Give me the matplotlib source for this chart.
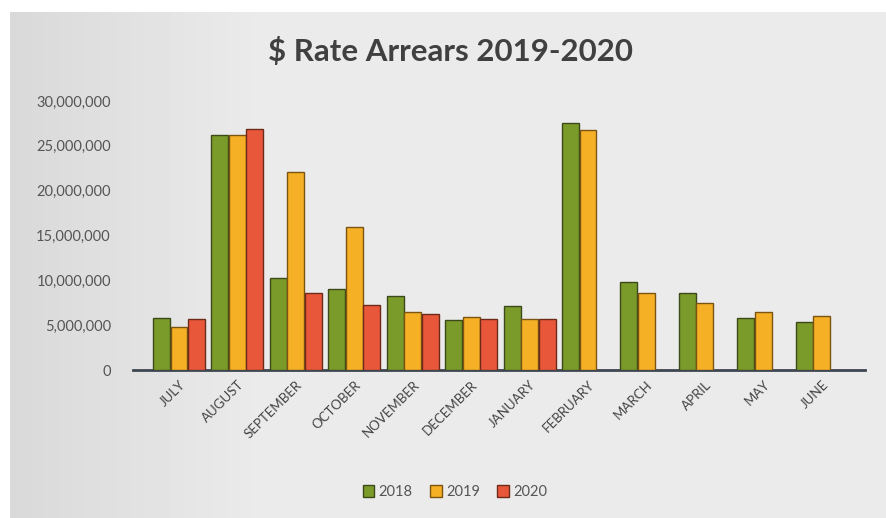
import matplotlib
matplotlib.use("Agg")
import matplotlib.pyplot as plt
import numpy as np
from matplotlib.ticker import FuncFormatter

# ---------------------------------------------------------------------------
# Data
# ---------------------------------------------------------------------------

MONTHS = ["JULY", "AUGUST", "SEPTEMBER", "OCTOBER", "NOVEMBER", "DECEMBER",
          "JANUARY", "FEBRUARY", "MARCH", "APRIL", "MAY", "JUNE"]
YEARS = ["2018", "2019", "2020"]

arrears_2018 = [5.8e6, 26.2e6, 10.3e6, 9.0e6, 8.25e6, 5.6e6,
                7.1e6, 27.5e6, 9.85e6, 8.6e6, 5.8e6, 5.4e6]
arrears_2019 = [4.8e6, 26.2e6, 22.1e6, 16.0e6, 6.5e6, 5.9e6,
                5.7e6, 26.8e6, 8.6e6, 7.5e6, 6.5e6, 6.0e6]
arrears_2020 = [5.7e6, 26.9e6, 8.6e6, 7.2e6, 6.3e6, 5.7e6,
                5.7e6, np.nan, np.nan, np.nan, np.nan, np.nan]

COLORS = ["#7A9A2A", "#F6B026", "#E8573A"]
EDGES = ["#3B4A18", "#7A5410", "#6E2A18"]

plt.rcParams["font.family"] = ["Lato", "DejaVu Sans"]

fig = plt.figure(figsize=(8.86, 5.18), dpi=100)
fig.patch.set_facecolor("white")

# chart area background: soft grey gradient, darker at the left edge
bg = fig.add_axes([0.011, 0.0, 0.989, 0.977])
bg.set_axis_off()
grad = np.linspace(0, 1, 256)
shade = 0.85 + 0.07 * np.clip(grad * 3.5, 0, 1)
bg.imshow(np.tile(shade, (16, 1)), aspect="auto", cmap="gray", vmin=0, vmax=1,
          extent=(0, 1, 0, 1))
bg.set_xlim(0, 1)
bg.set_ylim(0, 1)

ax = fig.add_axes([133 / 886, 1 - 370 / 518, (865 - 133) / 886, (370 - 101) / 518])
ax.patch.set_alpha(0)

x = np.arange(len(MONTHS))
width = 0.29
series = [arrears_2018, arrears_2019, arrears_2020]
for k, (vals, year) in enumerate(zip(series, YEARS)):
    ax.bar(x + (k - 1) * 0.3, vals, width, color=COLORS[k],
           edgecolor=EDGES[k], linewidth=1.0, label=year, zorder=3)

ax.set_xlim(-0.787, 11.74)
ax.set_ylim(0, 30e6)
ax.set_yticks(np.arange(0, 30e6 + 1, 5e6))
ax.yaxis.set_major_formatter(FuncFormatter(lambda v, _: f"{v:,.0f}"))
ax.tick_params(axis="y", length=0, labelsize=10.5, labelcolor="#555555", pad=16)

ax.set_xticks(x)
ax.set_xticklabels(MONTHS, rotation=45, ha="right", rotation_mode="anchor",
                   fontsize=9.5, color="#444444")
ax.tick_params(axis="x", length=0, pad=6)

for side in ["top", "right", "left"]:
    ax.spines[side].set_visible(False)
ax.spines["bottom"].set_color("#3E4650")
ax.spines["bottom"].set_linewidth(2)

fig.text(0.508, 0.9, "$ Rate Arrears 2019-2020", ha="center", va="center",
         fontsize=22.5, fontweight="bold", color="#404040")

leg = ax.legend(loc="center", bbox_to_anchor=(455 / 886, 26 / 518),
                bbox_transform=fig.transFigure, ncol=3, frameon=False,
                fontsize=10.5, handlelength=0.8, handleheight=0.8,
                handletextpad=0.3, columnspacing=1.2)
for t in leg.get_texts():
    t.set_color("#555555")

fig.savefig("out.png", dpi=100)
